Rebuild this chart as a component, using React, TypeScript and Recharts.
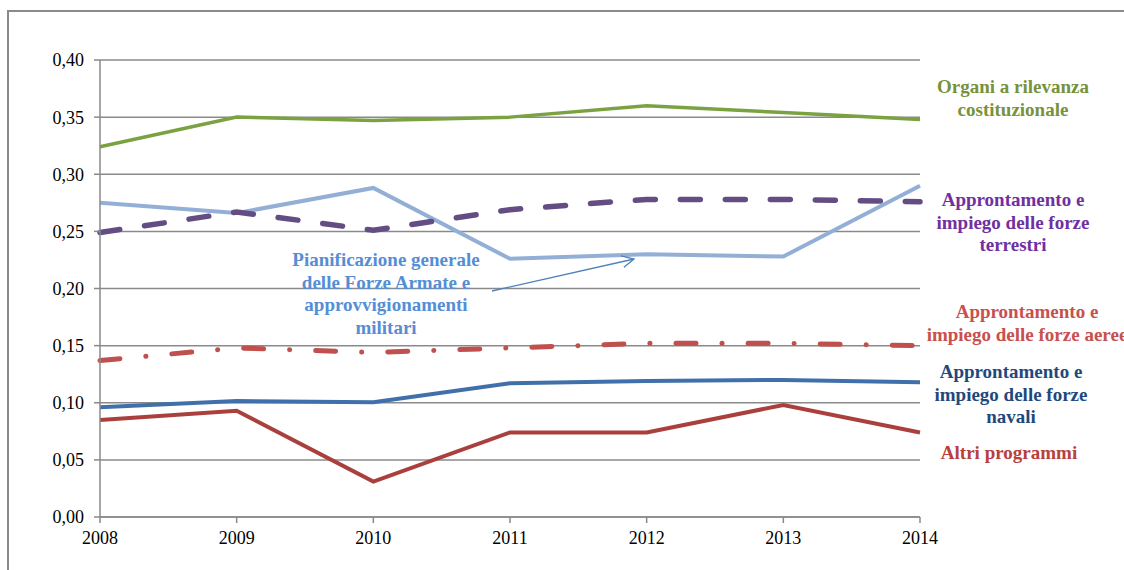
import { LineChart, Line, XAxis, YAxis, CartesianGrid } from "recharts"

const years = ["2008", "2009", "2010", "2011", "2012", "2013", "2014"]
const organi = [0.324, 0.35, 0.347, 0.35, 0.36, 0.354, 0.348]
const pianificazione = [0.275, 0.266, 0.288, 0.226, 0.23, 0.228, 0.29]
const terrestri = [0.249, 0.267, 0.251, 0.269, 0.278, 0.278, 0.276]
const aeree = [0.137, 0.148, 0.144, 0.148, 0.152, 0.152, 0.15]
const navali = [0.096, 0.1015, 0.1005, 0.117, 0.119, 0.12, 0.118]
const altri = [0.085, 0.093, 0.031, 0.074, 0.074, 0.098, 0.074]
const yTicks = [0, 0.05, 0.1, 0.15, 0.2, 0.25, 0.3, 0.35, 0.4]

const data = years.map((y, i) => ({
  year: y,
  organi: organi[i],
  pianificazione: pianificazione[i],
  terrestri: terrestri[i],
  aeree: aeree[i],
  navali: navali[i],
  altri: altri[i],
}))

const font = "Liberation Serif"
const axisGray = "#8a8a8a"

function Label({ x, y, color, lines }: { x: number; y: number; color: string; lines: string[] }) {
  return (
    <text x={x} y={y} fill={color} style={{ fontFamily: font, fontSize: 19, fontWeight: 700 }} textAnchor="middle">
      {lines.map((l, i) => (
        <tspan key={i} x={x} dy={i === 0 ? 0 : 22.5}>
          {l}
        </tspan>
      ))}
    </text>
  )
}

export default function App() {
  return (
    <div style={{ position: "absolute", left: 0, top: 0, width: 1124, height: 570, overflow: "hidden", background: "#fff" }}>
      <div
        style={{
          position: "absolute",
          left: 7,
          top: 10,
          width: 1200,
          height: 700,
          borderLeft: `2px solid ${axisGray}`,
          borderTop: `2px solid ${axisGray}`,
        }}
      />
      <div style={{ position: "absolute", left: 0, top: 0 }}>
        <LineChart width={1124} height={570} data={data} margin={{ top: 60, right: 204, bottom: 23, left: 40 }}>
          <CartesianGrid vertical={false} stroke={axisGray} strokeWidth={1.5} />
          <XAxis
            dataKey="year"
            type="category"
            stroke={axisGray}
            strokeWidth={1.5}
            tickSize={6}
            tickMargin={8}
            height={30}
            interval={0}
            tick={{ fontFamily: font, fontSize: 18, fill: "#000" }}
          />
          <YAxis
            domain={[0, 0.4]}
            ticks={yTicks}
            width={60}
            stroke={axisGray}
            strokeWidth={1.5}
            tickSize={6}
            tickMargin={10}
            tickFormatter={(v: number) => v.toFixed(2).replace(".", ",")}
            tick={{ fontFamily: font, fontSize: 18, fill: "#000" }}
          />
          <Line dataKey="organi" stroke="#7BA241" strokeWidth={3.5} dot={false} isAnimationActive={false} />
          <Line dataKey="pianificazione" stroke="#93AFD6" strokeWidth={4} dot={false} isAnimationActive={false} />
          <Line
            dataKey="terrestri"
            stroke="#634D83"
            strokeWidth={5.5}
            strokeDasharray="20 25"
            strokeLinecap="round"
            dot={false}
            isAnimationActive={false}
          />
          <Line
            dataKey="aeree"
            stroke="#C0504D"
            strokeWidth={5}
            strokeDasharray="20 26 0.1 26"
            strokeLinecap="round"
            dot={false}
            isAnimationActive={false}
          />
          <Line dataKey="navali" stroke="#4070A9" strokeWidth={4} dot={false} isAnimationActive={false} />
          <Line dataKey="altri" stroke="#A9403D" strokeWidth={4} dot={false} isAnimationActive={false} />
        </LineChart>
      </div>
      <svg width={1124} height={570} style={{ position: "absolute", left: 0, top: 0, pointerEvents: "none" }}>
        <defs>
          <marker id="arr" markerWidth="14" markerHeight="14" refX="12" refY="7" orient="auto" markerUnits="userSpaceOnUse">
            <path d="M0,1 L12,7 L0,13" fill="none" stroke="#4F81BD" strokeWidth={1.3} />
          </marker>
        </defs>
        <line x1={492} y1={291} x2={634} y2={259} stroke="#4F81BD" strokeWidth={1.3} markerEnd="url(#arr)" />
        <Label x={1013} y={93} color="#76923C" lines={["Organi a rilevanza", "costituzionale"]} />
        <Label x={1013} y={206} color="#7030A0" lines={["Approntamento e", "impiego delle forze", "terrestri"]} />
        <Label
          x={386}
          y={266}
          color="#558ED5"
          lines={["Pianificazione generale", "delle Forze Armate e", "approvvigionamenti", "militari"]}
        />
        <Label x={1027} y={318} color="#C8504D" lines={["Approntamento e", "impiego delle forze aeree"]} />
        <Label x={1011} y={378} color="#1F497D" lines={["Approntamento e", "impiego delle forze", "navali"]} />
        <Label x={1009} y={459} color="#B8403D" lines={["Altri programmi"]} />
      </svg>
    </div>
  )
}
